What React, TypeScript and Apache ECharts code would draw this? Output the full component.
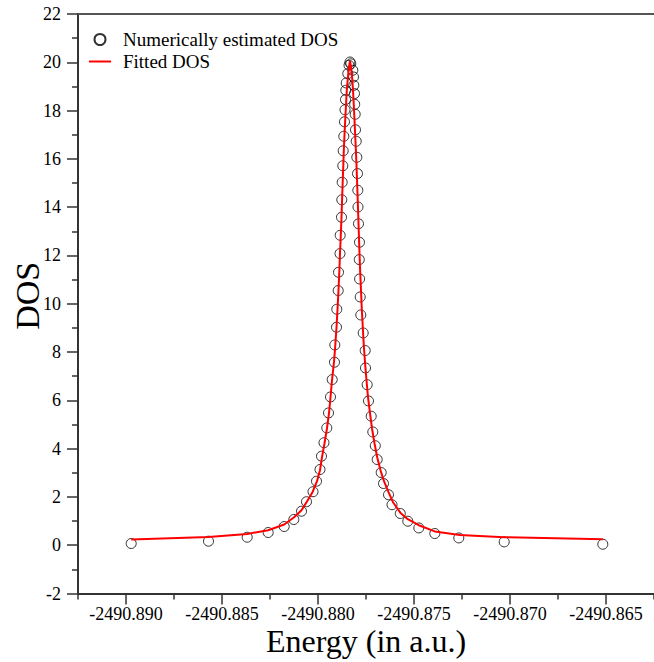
import React, { useEffect, useRef } from "react";
import * as echarts from "echarts";

// Energy reference used only to express the x axis in milli-Hartree offsets
const ENERGY_BASE = -2490.88;

// Numerically estimated DOS (open circles)
const dataEnergy = [
  -2490.889729, -2490.885703, -2490.883688, -2490.882594, -2490.88176, -2490.88126,
  -2490.880859, -2490.880599, -2490.88026, -2490.880078, -2490.879896, -2490.879818,
  -2490.879688, -2490.879542, -2490.879453, -2490.879349, -2490.87926, -2490.879141,
  -2490.879125, -2490.879036, -2490.879021, -2490.878948, -2490.878932, -2490.878854,
  -2490.878844, -2490.878776, -2490.87876, -2490.87874, -2490.878708, -2490.878688,
  -2490.878656, -2490.87862, -2490.878594, -2490.878568, -2490.878552, -2490.878531,
  -2490.878448, -2490.878385, -2490.878333, -2490.878292, -2490.878188, -2490.878151,
  -2490.878135, -2490.878099, -2490.878089, -2490.878063, -2490.878047, -2490.87801,
  -2490.877979, -2490.877943, -2490.877927, -2490.877917, -2490.877891, -2490.877839,
  -2490.877849, -2490.877833, -2490.877802, -2490.877771, -2490.877646, -2490.877542,
  -2490.877526, -2490.877438, -2490.87737, -2490.877229, -2490.877146, -2490.877016,
  -2490.876917, -2490.876708, -2490.876589, -2490.876328, -2490.876146, -2490.875714,
  -2490.875323, -2490.87475, -2490.873917, -2490.872667, -2490.870302, -2490.865167,
];
const dataDOS = [
  0.07, 0.166, 0.331, 0.526, 0.774, 1.064,
  1.408, 1.801, 2.215, 2.65, 3.135, 3.685,
  4.244, 4.857, 5.478, 6.141, 6.861, 7.578,
  8.294, 9.027, 9.772, 10.547, 11.304, 12.079,
  12.836, 13.582, 14.306, 15.031, 15.714, 16.335,
  16.936, 17.536, 18.033, 18.456, 18.841, 19.143,
  19.532, 19.876, 20.012, 19.938, 19.669, 19.391,
  19.048, 18.704, 18.261, 17.847, 17.205, 16.729,
  16.066, 15.391, 14.7, 14.008, 13.313, 12.547,
  11.83, 11.027, 10.282, 9.536, 8.791, 8.062,
  7.342, 6.646, 5.975, 5.342, 4.692, 4.12,
  3.549, 3.01, 2.555, 2.091, 1.677, 1.313,
  0.994, 0.716, 0.484, 0.302, 0.137, 0.041,
];

// Fitted DOS (red line)
const fitEnergy = [
  -2490.889729, -2490.885703, -2490.883688, -2490.882594, -2490.88176, -2490.88126,
  -2490.880859, -2490.880599, -2490.880286, -2490.880052, -2490.879896, -2490.879792,
  -2490.879661, -2490.879531, -2490.879427, -2490.879349, -2490.879271, -2490.879167,
  -2490.879099, -2490.879036, -2490.878984, -2490.878932, -2490.878891, -2490.878854,
  -2490.878813, -2490.878776, -2490.878745, -2490.878714, -2490.878682, -2490.878656,
  -2490.87862, -2490.878583, -2490.878542, -2490.8785, -2490.878448, -2490.878396,
  -2490.878333,
  -2490.878271, -2490.878219, -2490.878177, -2490.878135, -2490.878099, -2490.878063,
  -2490.878026, -2490.877995, -2490.877964, -2490.877932, -2490.877901, -2490.87787,
  -2490.877839, -2490.877802, -2490.87776, -2490.877719, -2490.877667, -2490.877615,
  -2490.877552, -2490.877474, -2490.877396, -2490.877292, -2490.877188, -2490.877057,
  -2490.876917, -2490.876745, -2490.876563, -2490.876328, -2490.876094, -2490.875703,
  -2490.875323, -2490.87475, -2490.873917, -2490.872615, -2490.870302, -2490.865167,
];
const fitDOS = [
  0.236, 0.344, 0.468, 0.621, 0.857, 1.147,
  1.449, 1.781, 2.195, 2.65, 3.106, 3.644,
  4.224, 4.845, 5.466, 6.128, 6.832, 7.578,
  8.282, 9.027, 9.772, 10.559, 11.304, 12.091,
  12.836, 13.582, 14.327, 15.031, 15.735, 16.356,
  16.977, 17.598, 18.219, 18.841, 19.337, 19.752,
  20.062,
  19.752, 19.337, 18.841, 18.219, 17.598, 16.977,
  16.356, 15.735, 15.031, 14.327, 13.582, 12.836,
  12.091, 11.304, 10.559, 9.772, 9.027, 8.282,
  7.578, 6.832, 6.128, 5.466, 4.845, 4.224,
  3.644, 3.106, 2.65, 2.195, 1.781, 1.337,
  1.077, 0.828, 0.571, 0.427, 0.331, 0.248,
];

// Axis ticks
const xMin = -2490.8925;
const xMax = -2490.8625;
const xMajorTicks = [-2490.89, -2490.885, -2490.88, -2490.875, -2490.87, -2490.865];
const xMinorTicks = [-2490.8925, -2490.8875, -2490.8825, -2490.8775, -2490.8725, -2490.8675, -2490.8625];
const yMin = -2;
const yMax = 22;
const yStep = 2;

const toX = (e: number) => Math.round((e - ENERGY_BASE) * 1e6) / 1e3;

const FONT = "Liberation Serif";
const AXIS_COLOR = "#333333";

export default function App() {
  const ref = useRef<HTMLDivElement>(null);

  useEffect(() => {
    if (!ref.current) return;
    const chart = echarts.init(ref.current, undefined, { renderer: "svg" });
    const axisLine = { show: true, onZero: false, lineStyle: { color: AXIS_COLOR, width: 2 } };
    const tickStyle = { color: AXIS_COLOR, width: 1.5 };
    const labelStyle = { fontFamily: FONT, fontSize: 18, fontWeight: "normal", color: "#000" };
    const option: any = {
      animation: false,
      backgroundColor: "#ffffff",
      textStyle: { fontFamily: FONT },
      grid: {
        left: 78,
        right: 0,
        top: 14,
        bottom: 68.5,
        containLabel: false,
        outerBoundsMode: "none",
      },
      legend: {
        orient: "vertical",
        left: 88,
        top: 30,
        padding: 0,
        itemWidth: 22,
        itemHeight: 11,
        itemGap: 3,
        textStyle: { fontFamily: FONT, fontSize: 19, color: "#000", padding: [0, 0, 0, 7] },
        data: [
          { name: "Numerically estimated DOS", icon: "circle" },
          { name: "Fitted DOS", itemStyle: { color: "rgba(0,0,0,0)", borderWidth: 0, opacity: 0 } },
        ],
      },
      xAxis: [
        {
          type: "value",
          position: "bottom",
          min: toX(xMin),
          max: toX(xMax),
          axisLine,
          axisTick: { show: true, length: 11, lineStyle: tickStyle, customValues: xMajorTicks.map(toX) },
          axisLabel: {
            ...labelStyle,
            customValues: xMajorTicks.map(toX),
            margin: 11,
            formatter: (v: number) => (ENERGY_BASE + v / 1000).toFixed(3),
          },
          splitLine: { show: false },
          name: "Energy (in a.u.)",
          nameLocation: "middle",
          nameGap: 31,
          nameMoveOverlap: false,
          nameTextStyle: { fontFamily: FONT, fontSize: 32, color: "#000" },
        },
        {
          type: "value",
          position: "bottom",
          min: toX(xMin),
          max: toX(xMax),
          axisLine: { show: false, onZero: false },
          axisTick: { show: true, length: 6, lineStyle: tickStyle, customValues: xMinorTicks.map(toX) },
          axisLabel: { show: false },
          splitLine: { show: false },
        },
        {
          type: "value",
          position: "top",
          min: toX(xMin),
          max: toX(xMax),
          axisLine: { show: true, onZero: false, lineStyle: { color: "#555", width: 2 } },
          axisTick: { show: false },
          axisLabel: { show: false },
          splitLine: { show: false },
        },
      ],
      yAxis: {
        type: "value",
        min: yMin,
        max: yMax,
        interval: yStep,
        axisLine,
        axisTick: { show: true, length: 11, lineStyle: tickStyle },
        minorTick: { show: true, splitNumber: 2, length: 6, lineStyle: tickStyle },
        axisLabel: { ...labelStyle, margin: 17 },
        splitLine: { show: false },
        name: "DOS",
        nameLocation: "middle",
        nameGap: 34,
        nameMoveOverlap: false,
        nameTextStyle: { fontFamily: FONT, fontSize: 34, color: "#000", padding: [0, 0, 0, 16] },
      },
      series: [
        {
          name: "Numerically estimated DOS",
          type: "scatter",
          xAxisIndex: 0,
          symbol: "circle",
          symbolSize: 10,
          itemStyle: { color: "rgba(0,0,0,0)", borderColor: "#000", borderWidth: 1 },
          data: dataEnergy.map((e, i) => [toX(e), dataDOS[i]]),
          z: 2,
        },
        {
          name: "Fitted DOS",
          type: "line",
          xAxisIndex: 0,
          symbol: "none",
          lineStyle: { color: "#ff0000", width: 2 },
          itemStyle: { color: "#ff0000" },
          data: fitEnergy.map((e, i) => [toX(e), fitDOS[i]]),
          z: 3,
        },
      ],
    };
    chart.setOption(option);
    return () => chart.dispose();
  }, []);

  return (
    <div
      ref={ref}
      style={{ position: "absolute", left: 0, top: 0, width: 654, height: 662, background: "#fff" }}
    />
  );
}
